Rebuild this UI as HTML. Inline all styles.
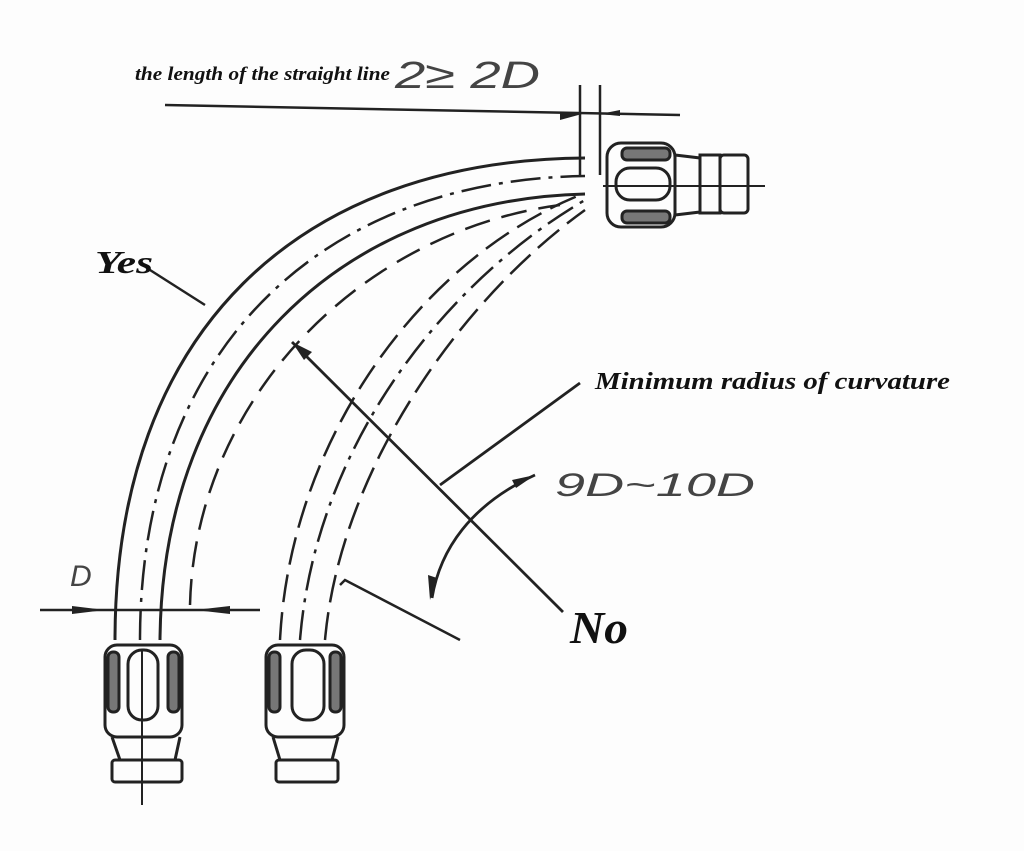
<!DOCTYPE html>
<html><head><meta charset="utf-8"><style>
html,body{margin:0;padding:0;background:#fdfdfd;}
svg{display:block}
.lab{font-family:"Liberation Serif",serif;font-weight:bold;font-style:italic;fill:#111}
.g{font-family:"Liberation Sans",sans-serif;font-style:italic;fill:#444}
</style></head><body>
<svg width="1024" height="851" viewBox="0 0 1024 851" xmlns="http://www.w3.org/2000/svg">
<rect width="1024" height="851" fill="#fdfdfd"/>
<g fill="none" stroke="#222" stroke-width="3">
<path d="M115,640 C115,330 300,160 585,158"/>
<path d="M140,640 C140,350 320,180 585,176" stroke-dasharray="30,8,4,8" stroke-width="2.5"/>
<path d="M160,640 C162,370 340,200 585,194"/>
<path d="M190,605 C195,400 360,232 560,205" stroke-dasharray="26,12" stroke-width="2.5"/>
<path d="M280,640 C290,440 420,260 580,195" stroke-dasharray="28,10" stroke-width="2.5"/>
<path d="M300,640 C315,450 440,285 585,200" stroke-dasharray="30,8,4,8" stroke-width="2.5"/>
<path d="M325,640 C340,470 460,300 585,210" stroke-dasharray="28,10" stroke-width="2.5"/>
<path d="M340,585 L345,580 L460,640" stroke-width="2.5"/>
<path d="M165,105 L680,115" stroke-width="2.5"/>
<path d="M580,85 L580,175 M600,85 L600,175" stroke-width="2.5"/>
<path d="M40,610 L260,610" stroke-width="2.5"/>
<path d="M150,270 L205,305" stroke-width="2.5"/>
<path d="M292,342 L563,612" stroke-width="2.8"/>
<path d="M580,383 L440,485" stroke-width="2.8"/>
<path d="M432,598 C440,550 470,505 535,475" stroke-width="2.8"/>
<!-- top fitting -->
<rect x="607" y="143" width="68" height="84" rx="14"/>
<rect x="616" y="168" width="54" height="32" rx="14"/>
<rect x="622" y="148" width="48" height="12" rx="5" fill="#777"/>
<rect x="622" y="211" width="48" height="12" rx="5" fill="#777"/>
<path d="M675,155 L700,158 L700,212 L675,215"/>
<rect x="700" y="155" width="20" height="58"/>
<rect x="720" y="155" width="28" height="58" rx="4"/>
<path d="M603,186 L765,186" stroke-width="2"/>
<!-- bottom left fitting -->
<rect x="105" y="645" width="77" height="92" rx="12"/>
<rect x="128" y="650" width="30" height="70" rx="14"/>
<rect x="108" y="652" width="11" height="60" rx="5" fill="#777"/>
<rect x="168" y="652" width="11" height="60" rx="5" fill="#777"/>
<path d="M112,737 L120,760 L175,760 L180,737"/>
<rect x="112" y="760" width="70" height="22" rx="3"/>
<path d="M142,650 L142,805" stroke-width="2"/>
<!-- bottom middle fitting -->
<rect x="266" y="645" width="78" height="92" rx="12"/>
<rect x="292" y="650" width="32" height="70" rx="14"/>
<rect x="269" y="652" width="11" height="60" rx="5" fill="#777"/>
<rect x="330" y="652" width="11" height="60" rx="5" fill="#777"/>
<path d="M273,737 L280,760 L332,760 L338,737"/>
<rect x="276" y="760" width="62" height="22" rx="3"/>
</g>
<g fill="#222">
<path d="M560,112 L582,114 L560,120Z"/>
<path d="M620,116 L600,114 L620,110Z"/>
<path d="M72,606 L105,610 L72,614Z"/>
<path d="M230,606 L195,610 L230,614Z"/>
<path d="M292,342 L312,352 L304,360Z"/>
<path d="M535,475 L512,480 L516,488Z"/>
<path d="M430,600 L428,575 L437,578Z"/>
</g>
<text x="135" y="80" class="lab" font-size="19" textLength="255" lengthAdjust="spacingAndGlyphs">the length of the straight line</text>
<text x="395" y="88" class="g" font-size="38" font-style="normal" textLength="145" lengthAdjust="spacingAndGlyphs">2≥ 2D</text>
<text x="95" y="273" class="lab" font-size="32" textLength="58" lengthAdjust="spacingAndGlyphs">Yes</text>
<text x="595" y="389" class="lab" font-size="24" textLength="355" lengthAdjust="spacingAndGlyphs">Minimum radius of curvature</text>
<text x="555" y="496" class="g" font-size="32" textLength="200" lengthAdjust="spacingAndGlyphs">9D~10D</text>
<text x="570" y="643" class="lab" font-size="46" textLength="58" lengthAdjust="spacingAndGlyphs">No</text>
<text x="70" y="586" class="g" font-size="30">D</text>
</svg>
</body></html>
